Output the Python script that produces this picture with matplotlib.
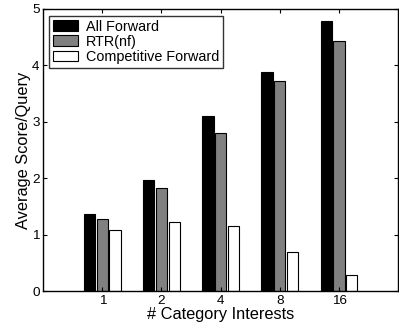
import numpy as np
import matplotlib
matplotlib.use('Agg')
import matplotlib.pyplot as plt

plt.rcParams['font.family'] = ['Liberation Sans', 'DejaVu Sans']

categories = ['1', '2', '4', '8', '16']
all_forward = [1.37, 1.96, 3.11, 3.88, 4.79]
rtr_nf = [1.27, 1.83, 2.80, 3.72, 4.43]
competitive = [1.08, 1.22, 1.15, 0.69, 0.29]

series = [
    ('All Forward', all_forward, 'black'),
    ('RTR(nf)', rtr_nf, '#808080'),
    ('Competitive Forward', competitive, 'white'),
]

fig = plt.figure(figsize=(3.99, 3.33), dpi=100)
ax = fig.add_axes([0.108, 0.126, 0.89, 0.847])

x = np.arange(1, len(categories) + 1)
width = 0.19
step = 0.215
for i, (name, vals, col) in enumerate(series):
    ax.bar(x + (i - 1) * step, vals, width, color=col, edgecolor='black',
           linewidth=0.8, label=name)

ax.set_xlim(0, 6)
ax.set_ylim(0, 5)
ax.set_xticks(x)
ax.set_xticklabels(categories)
ax.set_yticks([0, 1, 2, 3, 4, 5])
ax.tick_params(direction='in', top=True, right=True, labelsize=9.7,
               length=3, width=0.8, pad=2.5)
for s in ax.spines.values():
    s.set_linewidth(1.0)

ax.set_xlabel('# Category Interests', fontsize=11.8, labelpad=0)
ax.set_ylabel('Average Score/Query', fontsize=11.8, labelpad=1)

leg = ax.legend(loc='upper left', bbox_to_anchor=(0.017, 0.975), fontsize=10.4,
                frameon=True, fancybox=False, edgecolor='black',
                handlelength=1.75, handleheight=0.75, labelspacing=0.08,
                borderpad=0.25, handletextpad=0.55, borderaxespad=0)
leg.get_frame().set_linewidth(1.0)

fig.savefig('out.png', dpi=100)
